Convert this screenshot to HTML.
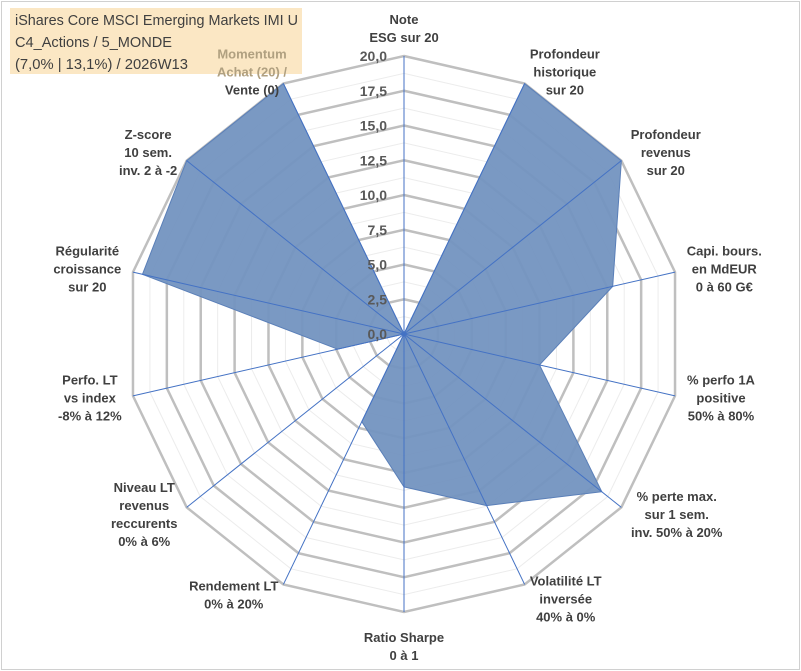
<!DOCTYPE html>
<html><head><meta charset="utf-8"><style>
body{margin:0;background:#fff;}
#wrap{position:relative;width:801px;height:671px;overflow:hidden;font-family:"Liberation Sans",sans-serif;}
svg text{font-family:"Liberation Sans",sans-serif;}
</style></head><body>
<div id="wrap">
<svg id="chart" width="801" height="671">
<rect x="1.5" y="1.5" width="798" height="668" fill="#fff" stroke="#d0d0d0"/>
<rect x="10" y="8" width="292" height="66" fill="#fbe7c4"/>
<g id="grid"></g><g id="series"></g><g id="spokes"></g><g id="ticks"></g><g id="labels"></g>
<text x="15" y="25" font-size="14.5" fill="#404040" textLength="283" lengthAdjust="spacingAndGlyphs">iShares Core MSCI Emerging Markets IMI U</text>
<text x="15" y="47" font-size="14.5" fill="#404040" textLength="157" lengthAdjust="spacingAndGlyphs">C4_Actions / 5_MONDE</text>
<text x="15" y="69" font-size="14.5" fill="#404040" textLength="173" lengthAdjust="spacingAndGlyphs">(7,0% | 13,1%) / 2026W13</text>
</svg>
</div>
<script>
const categories=[["Note","ESG sur 20"],["Profondeur","historique","sur 20"],["Profondeur","revenus","sur 20"],["Capi. bours.","en MdEUR","0 à 60 G€"],["% perfo 1A","positive","50% à 80%"],["% perte max.","sur 1 sem.","inv. 50% à 20%"],["Volatilité LT","inversée","40% à 0%"],["Ratio Sharpe","0 à 1"],["Rendement LT","0% à 20%"],["Niveau LT","revenus","reccurents","0% à 6%"],["Perfo. LT","vs index","-8% à 12%"],["Régularité","croissance","sur 20"],["Z-score","10 sem.","inv. 2 à -2"],["Momentum","Achat (20) /","Vente (0)"]];
const values=[0,20,20,15.4,10,18.2,13.7,11,7,0,4.9,19.3,20,20];
const tickLabels=["0,0","2,5","5,0","7,5","10,0","12,5","15,0","17,5","20,0"];
const tickValues=[0,2.5,5,7.5,10,12.5,15,17.5,20];
const cx=404,cy=334,R=278,maxV=20;
const NS="http://www.w3.org/2000/svg";
const n=categories.length;
function ang(i){return i*2*Math.PI/n;}
function pt(i,v){const r=v/maxV*R,a=ang(i);return [cx+r*Math.sin(a),cy-r*Math.cos(a)];}
function mk(tag,attrs,parent){const e=document.createElementNS(NS,tag);for(const k in attrs)e.setAttribute(k,attrs[k]);parent.appendChild(e);return e;}
const grid=document.getElementById('grid');
for(let t=1;t<=16;t++){const v=t*1.25;const pts=[];for(let i=0;i<n;i++)pts.push(pt(i,v).join(','));
 const major=t%2===0;
 const p=mk('polygon',{points:pts.join(' '),fill:'none',stroke:major?'#bfbfbf':'#ececec','stroke-width':major?2.5:1},grid);
 
 }
const sp=[];for(let i=0;i<n;i++)sp.push(pt(i,values[i]).join(','));
const poly=mk('polygon',{points:sp.join(' '),fill:'#7394c0','fill-opacity':0.95,stroke:'#5a7fb8','stroke-width':1},document.getElementById('series'));


const spk=document.getElementById('spokes');
for(let i=0;i<n;i++){const [x,y]=pt(i,maxV);const l=mk('line',{x1:cx,y1:cy,x2:x,y2:y,stroke:'#4472c4','stroke-width':1},spk);
 
 }
const tk=document.getElementById('ticks');
tickValues.forEach((v,j)=>{const [x,y]=pt(0,v);const t=mk('text',{x:x-17,y:y+5,'text-anchor':'end','font-size':14,'font-weight':'bold',fill:'#595959'},tk);t.textContent=tickLabels[j];
 
 });
const lb=document.getElementById('labels');
categories.forEach((lines,i)=>{const a=ang(i),s=Math.sin(a),c=-Math.cos(a);
 let x=cx+(R+12)*s,y=cy+(R+12)*c;let anchor=Math.abs(s)<0.2?'middle':(s>0?'start':'end');
 if(Math.abs(s)<0.2){x=cx;}
 const lh=18,h=lines.length*lh;
 let y0=y-h/2+13;
 if(i===0){y0=cy-R-32;}
 if(i===7){y0=y+18;}
 if(i===6){y0+=4;}
 const t=mk('text',{'text-anchor':anchor,'font-size':13,'font-weight':'bold',fill:'#404040'},lb);
 
 
 const spans=[];
 lines.forEach((ln,k)=>{const ts=mk('tspan',{x:x,y:y0+k*lh},t);ts.textContent=ln;spans.push(ts);
  if(i===13&&k<2)ts.setAttribute('fill','#b0a080');});
 if(anchor!=='middle'){const bb=t.getBBox();let mx=bb.x+bb.width/2;if(i===13)mx=252;
  t.setAttribute('text-anchor','middle');spans.forEach(ts=>ts.setAttribute('x',mx));}
});
</script>
</body></html>
